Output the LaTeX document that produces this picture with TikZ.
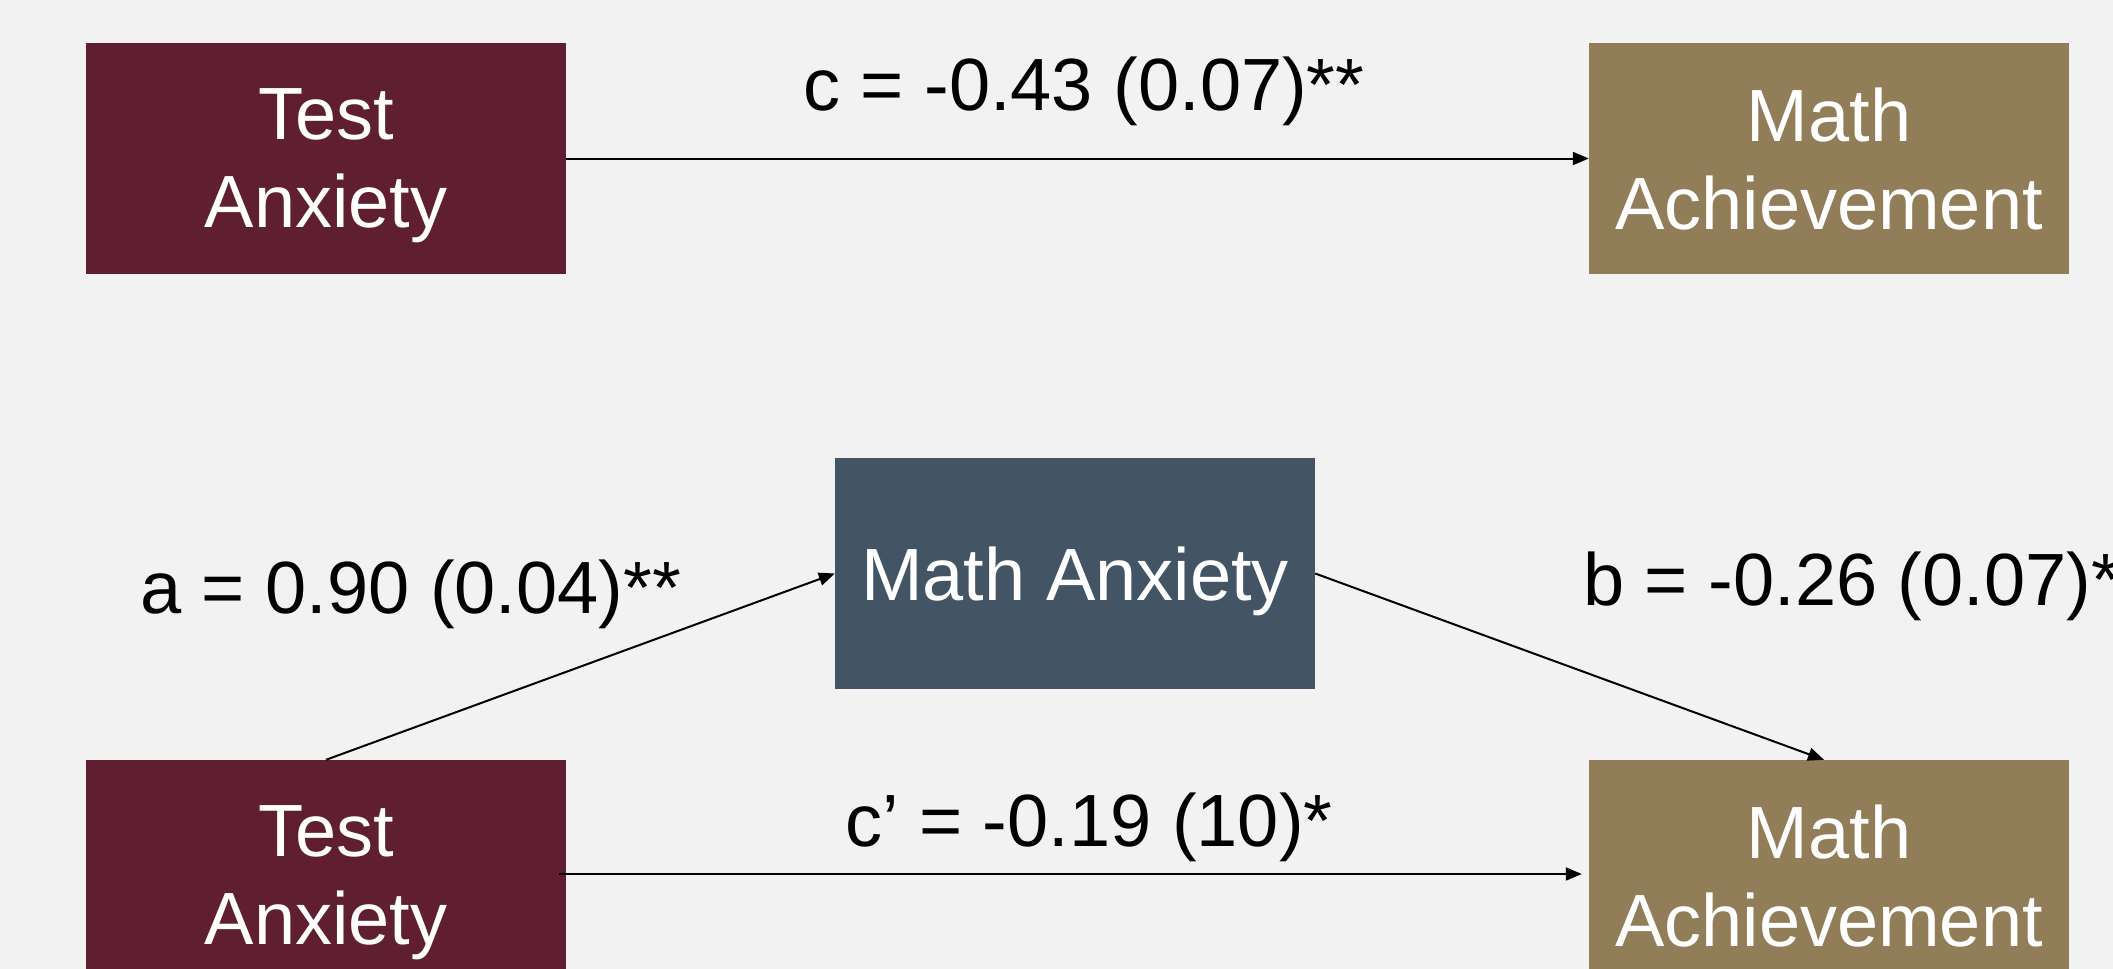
\documentclass[tikz,border=0pt]{standalone}
\usepackage{fontspec}
\setmainfont{Liberation Sans}
\usetikzlibrary{arrows.meta}
\definecolor{bg}{HTML}{F2F2F2}
\definecolor{maroon}{HTML}{5F1F30}
\definecolor{gold}{HTML}{917D57}
\definecolor{slate}{HTML}{435564}
\tikzset{
  varbox/.style={rectangle, minimum width=480pt, minimum height=231pt, inner sep=0pt,
    text=white, align=center, text depth=0pt, font=\fontsize{74}{88}\selectfont},
  lbl/.style={anchor=base west, inner sep=0pt, font=\fontsize{74}{88}\selectfont, text=black},
  path/.style={draw=black, line width=2pt, -{Triangle[length=16pt,width=13pt]}}
}
\begin{document}
\begin{tikzpicture}[x=1pt,y=-1pt]
\useasboundingbox (0,0) rectangle (2113,969);
\clip (0,0) rectangle (2113,969);
\fill[bg] (0,0) rectangle (2113,969);
% top model
\node[varbox, fill=maroon] (ta1) at (326,158.5) {Test\\Anxiety};
\node[varbox, fill=gold] (ma1) at (1829,158.5) {Math\\Achievement};
\draw[path] (ta1.east) -- (ma1.west);
\node[lbl] (lc) at (803,110) {c = -0.43 (0.07)**};
% bottom model
\node[varbox, fill=slate] (mx) at (1075,573.5) {Math Anxiety};
\node[varbox, fill=maroon] (ta2) at (326,875.5) {Test\\Anxiety};
\node[varbox, fill=gold] (ma2) at (1829,875.5) {Math\\Achievement};
\draw[path] (ta2.north) -- (mx.west);
\draw[path] (mx.east) -- ([xshift=-5pt]ma2.north);
\draw[path] ([xshift=-7pt,yshift=1.5pt]ta2.east) -- ([xshift=-7pt,yshift=1.5pt]ma2.west);
\node[lbl] (la) at (140,613) {a = 0.90 (0.04)**};
\node[lbl] (lb) at (1583,605) {b = -0.26 (0.07)*};
\node[lbl] (lcp) at (845,846) {c’ = -0.19 (10)*};
\end{tikzpicture}
\end{document}
